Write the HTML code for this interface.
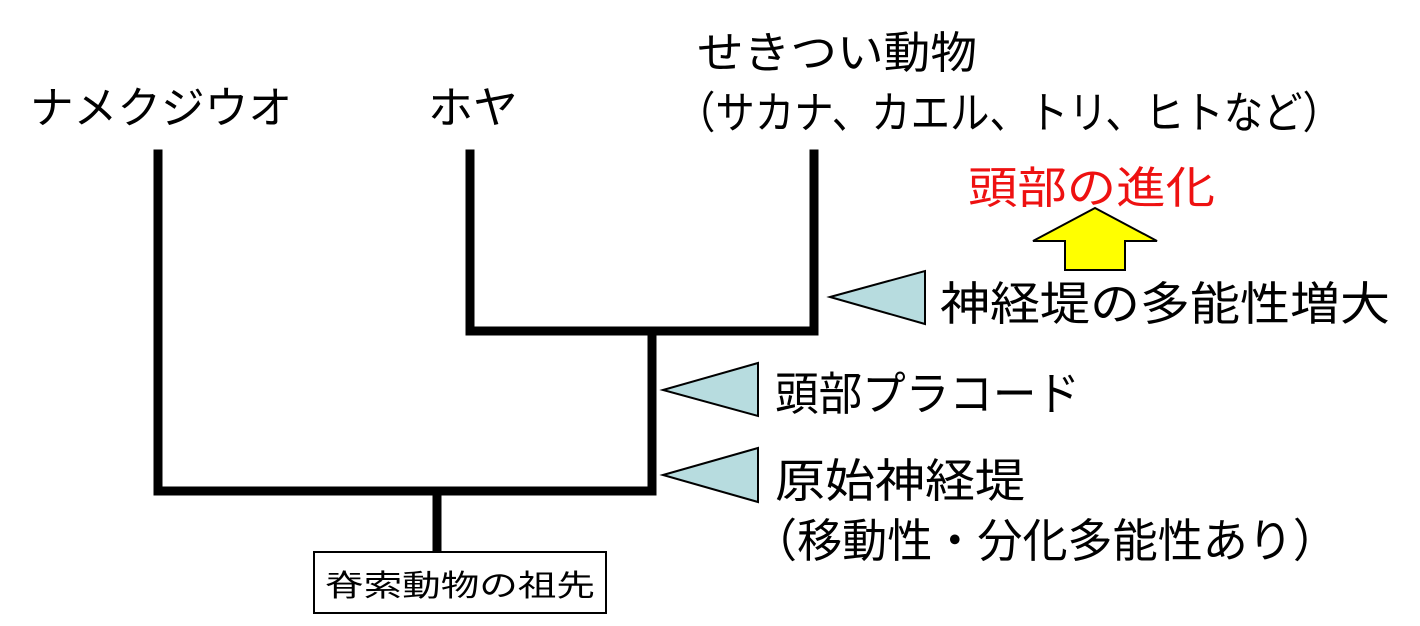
<!DOCTYPE html>
<html><head><meta charset="utf-8"><style>
html,body{margin:0;padding:0;background:#fff;}
svg{display:block}
text{font-family:"Liberation Sans","Noto Sans CJK JP",sans-serif;fill:#000}
</style></head><body>
<svg width="1420" height="626" viewBox="0 0 1420 626">
<g stroke="#000" stroke-width="9" fill="none" stroke-linecap="square">
<path d="M158 154 V491 H652 V331 H470 V154"/>
<path d="M652 331 H814 V154"/>
<path d="M437 495 V548"/>
</g>
<rect x="314" y="552" width="292" height="61" fill="#fff" stroke="#000" stroke-width="2"/>
<text x="325" y="596" font-size="30" textLength="270" lengthAdjust="spacingAndGlyphs">脊索動物の祖先</text>
<g fill="#b7dcdf" stroke="#000" stroke-width="2">
<polygon points="830,297 925,271 925,324"/>
<polygon points="663,390 758,363 758,416"/>
<polygon points="663,475 758,448 758,502"/>
</g>
<polygon points="1065,270 1125,270 1125,241 1157,241 1095,208 1033,241 1065,241" fill="#ffff00" stroke="#000" stroke-width="2"/>
<text x="30" y="123" font-size="44" textLength="262" lengthAdjust="spacingAndGlyphs">ナメクジウオ</text>
<text x="428" y="123" font-size="44" textLength="90" lengthAdjust="spacingAndGlyphs">ホヤ</text>
<text x="697" y="68" font-size="44" textLength="280" lengthAdjust="spacingAndGlyphs">せきつい動物</text>
<text x="676" y="128" font-size="44" textLength="666" lengthAdjust="spacingAndGlyphs">（サカナ、カエル、トリ、ヒトなど）</text>
<text x="968" y="203" font-size="44" style="fill:#ee1111" textLength="247" lengthAdjust="spacingAndGlyphs">頭部の進化</text>
<text x="940" y="320" font-size="46" textLength="450" lengthAdjust="spacingAndGlyphs">神経堤の多能性増大</text>
<text x="775" y="410" font-size="46" textLength="305" lengthAdjust="spacingAndGlyphs">頭部プラコード</text>
<text x="775" y="497" font-size="46" textLength="250" lengthAdjust="spacingAndGlyphs">原始神経堤</text>
<text x="752" y="557" font-size="46" textLength="586" lengthAdjust="spacingAndGlyphs">（移動性・分化多能性あり）</text>
</svg>
</body></html>
